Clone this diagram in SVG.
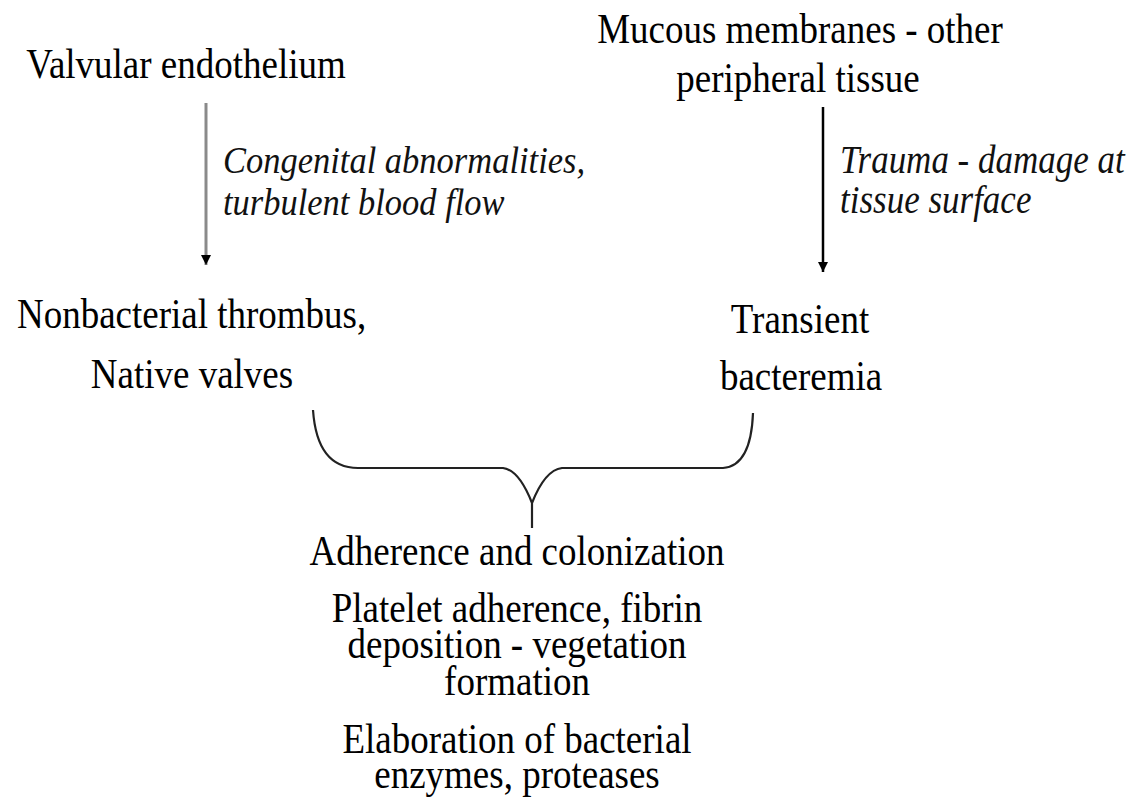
<svg xmlns="http://www.w3.org/2000/svg" width="1136" height="797" viewBox="0 0 1136 797">
  <style>
    .t { font-family: "Liberation Serif", "Times New Roman", serif; font-size: 37px; fill: #000; }
    .i { font-family: "Liberation Serif", "Times New Roman", serif; font-style: italic; font-size: 35px; fill: #111; }
    .m { text-anchor: middle; }
    .brace { fill: none; stroke: #222; stroke-width: 2.2; stroke-linejoin: round; }
  </style>
  <defs>
    <marker id="head" markerUnits="userSpaceOnUse" markerWidth="12" markerHeight="12" refX="10" refY="5" orient="auto">
      <path d="M0,0 L10,5 L0,10 Z" fill="#000"/>
    </marker>
  </defs>
  <rect width="1136" height="797" fill="#fff"/>

  <g id="connectors">
    <line x1="206" y1="103" x2="206" y2="265" stroke="#8a8a8a" stroke-width="3" marker-end="url(#head)"/>
    <line x1="823" y1="107" x2="823" y2="272" stroke="#000" stroke-width="2.5" marker-end="url(#head)"/>
    <path class="brace" d="M313,410 Q317,468 358,468 L503,468 Q519,470 532,503 L532,528 M532,503 Q545,470 562,468 L723,468 Q751,466 753,413"/>
  </g>

  <g id="valvular">
    <text class="t m" transform="translate(186,78) scale(1,1.12)">Valvular endothelium</text>
  </g>
  <g id="mucous">
    <text class="t m" transform="translate(800,43) scale(1,1.12)">Mucous membranes - other</text>
    <text class="t m" transform="translate(798,92) scale(1,1.12)">peripheral tissue</text>
  </g>
  <g id="label-left">
    <text class="i" font-size="34.5" transform="translate(223,173) scale(1,1.12)" style="font-size:34.5px">Congenital abnormalities,</text>
    <text class="i" transform="translate(223,215) scale(1,1.12)" style="font-size:34.5px">turbulent blood flow</text>
  </g>
  <g id="label-right">
    <text class="i" transform="translate(840,173) scale(1,1.12)">Trauma - damage at</text>
    <text class="i" transform="translate(840,213) scale(1,1.12)">tissue surface</text>
  </g>
  <g id="thrombus">
    <text class="t" transform="translate(17,328) scale(1,1.12)">Nonbacterial thrombus,</text>
    <text class="t m" transform="translate(192,388) scale(1,1.12)">Native valves</text>
  </g>
  <g id="bacteremia">
    <text class="t m" transform="translate(800,333) scale(1,1.12)">Transient</text>
    <text class="t m" transform="translate(801,390) scale(1,1.12)">bacteremia</text>
  </g>
  <g id="adherence">
    <text class="t m" transform="translate(517,565) scale(1,1.12)">Adherence and colonization</text>
    <text class="t m" transform="translate(517,622) scale(1,1.12)">Platelet adherence, fibrin</text>
    <text class="t m" transform="translate(517,658) scale(1,1.12)">deposition - vegetation</text>
    <text class="t m" transform="translate(517,695) scale(1,1.12)">formation</text>
    <text class="t m" transform="translate(517,753) scale(1,1.12)">Elaboration of bacterial</text>
    <text class="t m" transform="translate(517,788) scale(1,1.12)">enzymes, proteases</text>
  </g>
</svg>
